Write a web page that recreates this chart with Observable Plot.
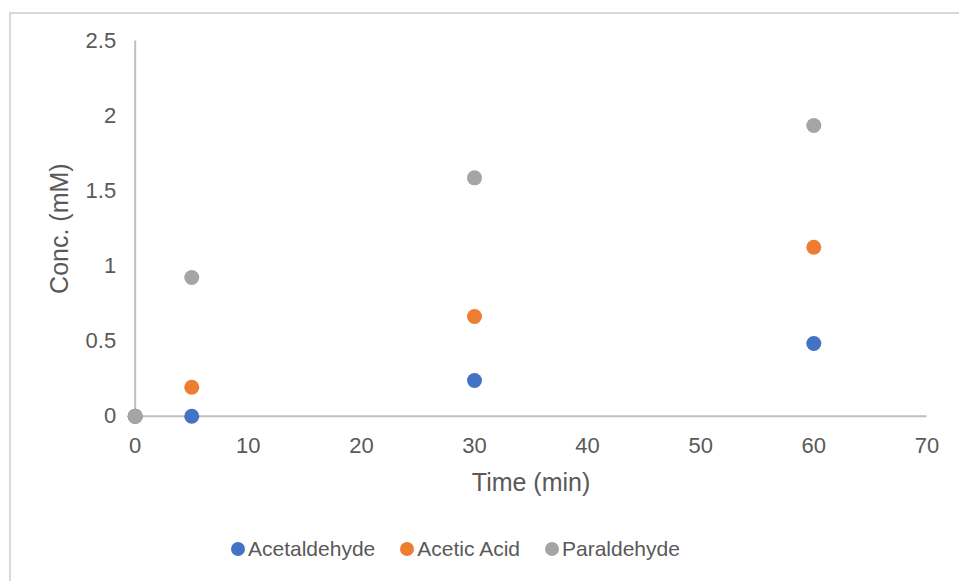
<!DOCTYPE html>
<html>
<head>
<meta charset="utf-8">
<script src="https://cdn.jsdelivr.net/npm/d3@7"></script>
<script src="https://cdn.jsdelivr.net/npm/@observablehq/plot@0.6"></script>
<style>
  html, body { margin: 0; padding: 0; background: #fff; }
  body { width: 959px; height: 581px; overflow: hidden; position: relative; font-family: "Liberation Sans", Arial, sans-serif; }
  #frame { position: absolute; left: 9px; top: 12px; width: 960px; height: 580px; border-left: 2px solid #d9d9d9; border-top: 2px solid #d9d9d9; box-sizing: border-box; pointer-events: none; }
  #chart { position: absolute; left: 0; top: 0; }
  #legend { position: absolute; left: 231px; top: 537px; display: flex; align-items: center; font-size: 21px; color: #595959; white-space: nowrap; }
  #legend .item { display: flex; align-items: center; margin-right: 25px; }
  #legend .sw { width: 14px; height: 14px; border-radius: 50%; margin-right: 3px; }
</style>
</head>
<body>
<div id="chart"></div>
<div id="legend"></div>
<div id="frame"></div>
<script>
// Sampling times (min)
const times = [0, 5, 30, 60];

// Measured concentrations (mM) per compound
const acetaldehyde = [0, 0, 0.238, 0.484];
const aceticAcid = [0, 0.193, 0.664, 1.126];
const paraldehyde = [0, 0.924, 1.588, 1.937];

const seriesNames = ["Acetaldehyde", "Acetic Acid", "Paraldehyde"];
const seriesColors = ["#4472C4", "#ED7D31", "#A5A5A5"];

const xTicks = [0, 10, 20, 30, 40, 50, 60, 70];
const yTicks = [0, 0.5, 1, 1.5, 2, 2.5];

const seriesValues = [acetaldehyde, aceticAcid, paraldehyde];
const rows = seriesNames.flatMap((name, i) =>
  times.map((t, j) => ({ series: name, time: t, conc: seriesValues[i][j] }))
);

const textColor = "#595959";
const axisColor = "#bfbfbf";

const chart = Plot.plot({
  width: 959,
  height: 520,
  marginLeft: 134.7,
  marginRight: 32.6,
  marginTop: 40.5,
  marginBottom: 104.3,
  style: { fontFamily: "'Liberation Sans', Arial, sans-serif", color: textColor, background: "transparent" },
  x: { domain: [0, 70], ticks: xTicks, label: null },
  y: { domain: [0, 2.5], ticks: yTicks, label: null },
  color: { domain: seriesNames, range: seriesColors },
  marks: [
    Plot.ruleX([0], { stroke: axisColor, strokeWidth: 2 }),
    Plot.ruleY([0], { stroke: axisColor, strokeWidth: 2 }),
    Plot.axisX({ ticks: xTicks, tickSize: 0, tickPadding: 21, fontSize: 22, color: textColor, tickFormat: d => String(d), label: null }),
    Plot.axisY({ ticks: yTicks, tickSize: 0, tickPadding: 19, fontSize: 22, color: textColor, tickFormat: d => String(d), label: null }),
    Plot.dot(rows, { x: "time", y: "conc", fill: "series", r: 7.5, stroke: "none" }),
    Plot.text(["Conc. (mM)"], { frameAnchor: "left", dx: -75, rotate: -90, fontSize: 25, fill: textColor, textAnchor: "middle" }),
    Plot.text(["Time (min)"], { frameAnchor: "bottom", dy: 67, fontSize: 25, fill: textColor, textAnchor: "middle", lineAnchor: "middle" })
  ]
});
document.getElementById("chart").appendChild(chart);

// Legend beneath the plot
const legend = d3.select("#legend");
seriesNames.forEach((name, i) => {
  const item = legend.append("div").attr("class", "item");
  item.append("span").attr("class", "sw").style("background", seriesColors[i]);
  item.append("span").text(name);
});
</script>
</body>
</html>
